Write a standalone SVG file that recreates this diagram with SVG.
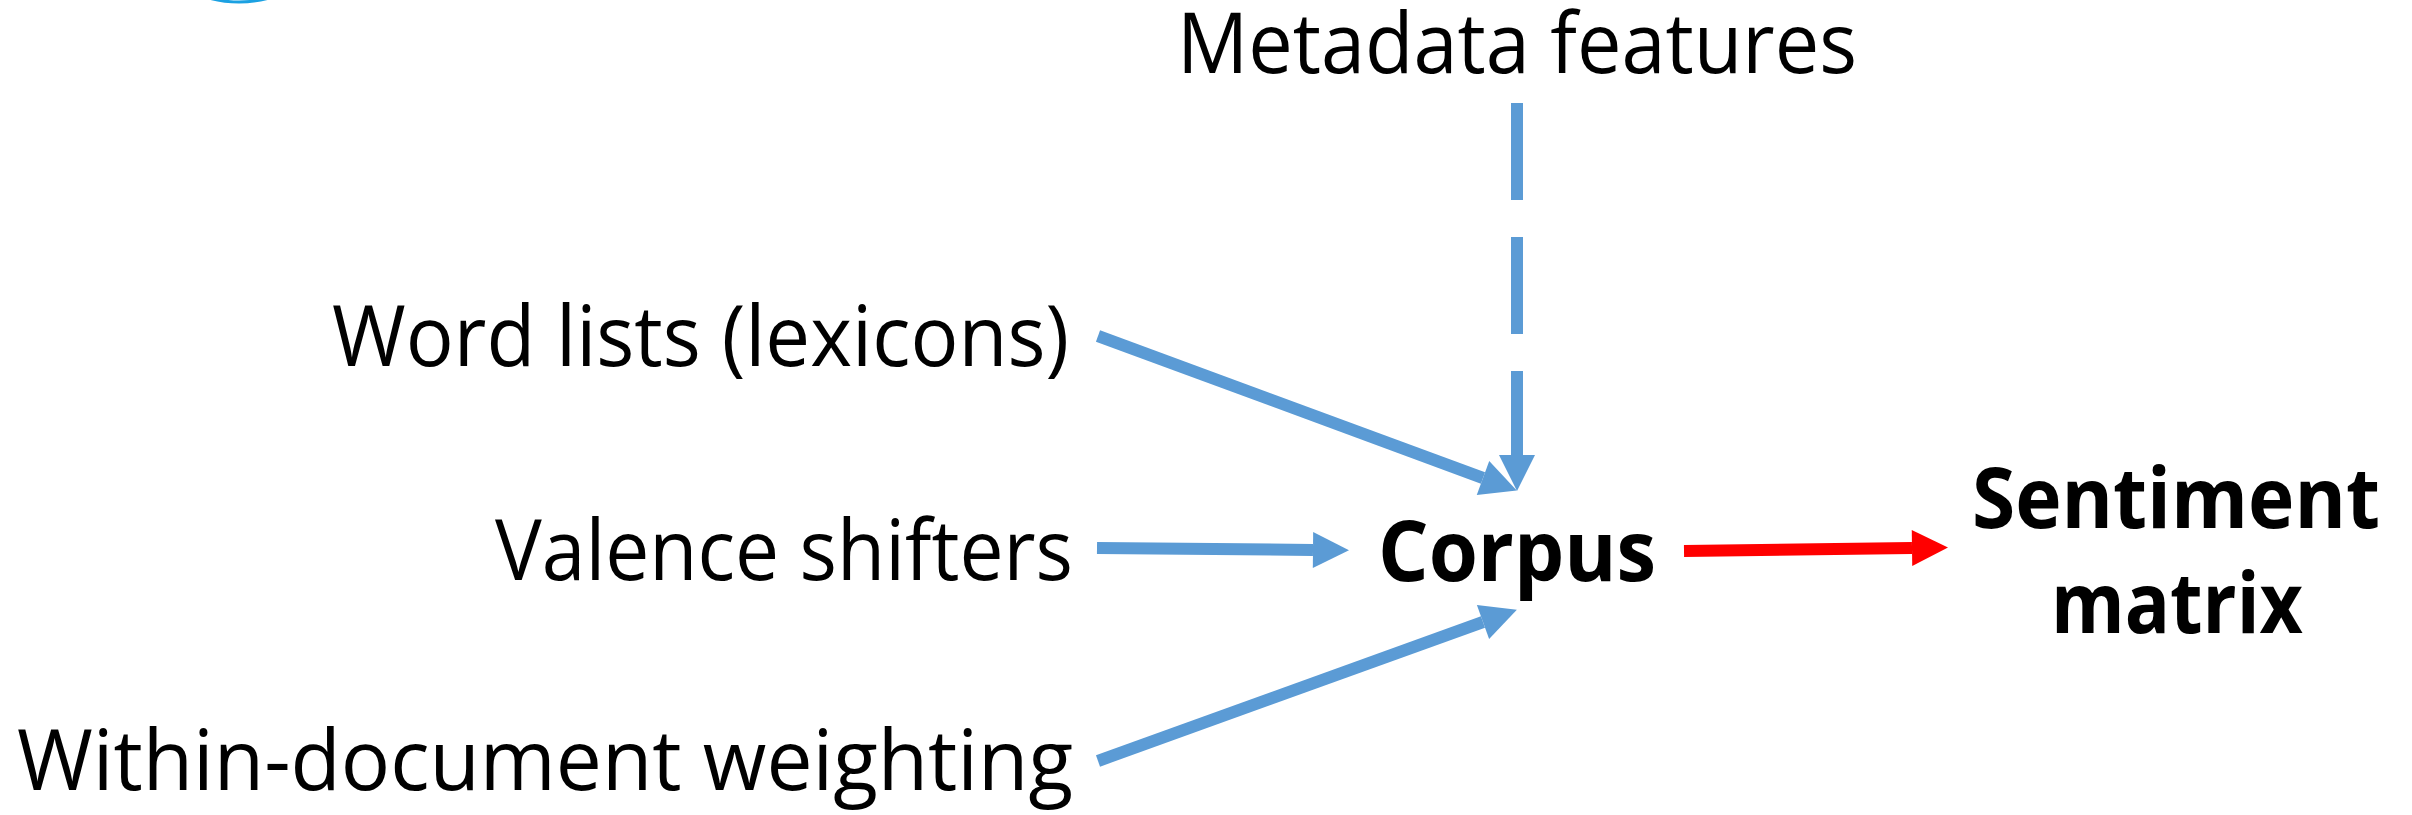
<svg xmlns="http://www.w3.org/2000/svg" width="2412" height="815" viewBox="0 0 2412 815">
  <style>
    .lbl { font-family: "Open Sans", "Noto Sans", "Liberation Sans", sans-serif; font-size: 84px; fill: #000; }
    .key { font-family: "Open Sans", "Noto Sans", "Liberation Sans", sans-serif; font-size: 85px; font-weight: bold; fill: #000; }
    .flow { fill: none; stroke: #5b9bd5; stroke-width: 12; marker-end: url(#head-blue); }
    .out { fill: none; stroke: #ff0000; stroke-width: 12; marker-end: url(#head-red); }
  </style>
  <defs>
    <marker id="head-blue" markerUnits="strokeWidth" markerWidth="3" markerHeight="3" viewBox="0 0 3 3" refX="0" refY="1.5" orient="auto" overflow="visible">
      <path d="M0,0 L3,1.5 L0,3 Z" fill="#5b9bd5"/>
    </marker>
    <marker id="head-red" markerUnits="strokeWidth" markerWidth="3" markerHeight="3" viewBox="0 0 3 3" refX="0" refY="1.5" orient="auto" overflow="visible">
      <path d="M0,0 L3,1.5 L0,3 Z" fill="#ff0000"/>
    </marker>
  </defs>

  <rect width="2412" height="815" fill="#ffffff"/>

  <!-- edge of a ring just above the top border -->
  <circle cx="239" cy="-114" r="116" fill="none" stroke="#1ba1e2" stroke-width="3"/>

  <g id="metadata">
    <text class="lbl" x="1517" y="73" text-anchor="middle" textLength="680" lengthAdjust="spacingAndGlyphs">Metadata features</text>
  </g>
  <g id="wordlists">
    <text class="lbl" x="332" y="366" textLength="737" lengthAdjust="spacingAndGlyphs">Word lists (lexicons)</text>
  </g>
  <g id="valence">
    <text class="lbl" x="495" y="580" textLength="578" lengthAdjust="spacingAndGlyphs">Valence shifters</text>
  </g>
  <g id="weighting">
    <text class="lbl" x="17" y="790" textLength="1056" lengthAdjust="spacingAndGlyphs">Within-document weighting</text>
  </g>
  <g id="corpus">
    <text class="key" x="1378" y="581" textLength="278" lengthAdjust="spacingAndGlyphs">Corpus</text>
  </g>
  <g id="sentiment">
    <text class="key" x="2176" y="528" text-anchor="middle" textLength="408" lengthAdjust="spacingAndGlyphs">Sentiment</text>
    <text class="key" x="2177" y="633" text-anchor="middle" textLength="252" lengthAdjust="spacingAndGlyphs">matrix</text>
  </g>

  <g id="connectors">
    <line class="flow" x1="1517" y1="103" x2="1517" y2="455" stroke-dasharray="97 37"/>
    <line class="flow" x1="1098" y1="336" x2="1483" y2="478"/>
    <line class="flow" x1="1097" y1="548" x2="1313" y2="550"/>
    <line class="flow" x1="1098" y1="761" x2="1483" y2="622"/>
    <line class="out" x1="1684" y1="551" x2="1912" y2="548"/>
  </g>
</svg>
